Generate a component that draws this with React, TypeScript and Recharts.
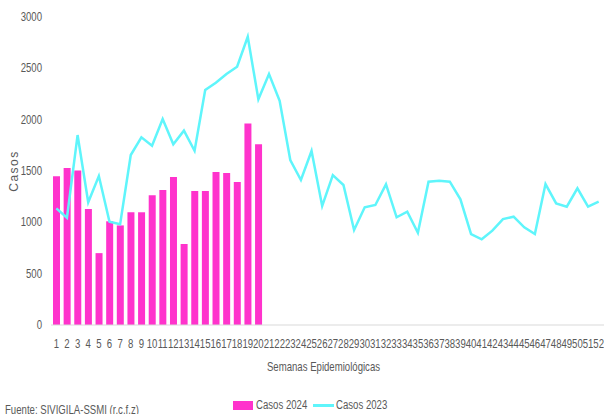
import React from "react";
import {
  ComposedChart,
  Bar,
  Line,
  XAxis,
  YAxis,
} from "recharts";

// semanas epidemiológicas 1..52
const semanas: string[] = [
  "1", "2", "3", "4", "5", "6", "7", "8", "9", "10",
  "11", "12", "13", "14", "15", "16", "17", "18", "19", "20",
  "21", "22", "23", "24", "25", "26", "27", "28", "29", "30",
  "31", "32", "33", "34", "35", "36", "37", "38", "39", "40",
  "41", "42", "43", "44", "45", "46", "47", "48", "49", "50",
  "51", "52",
];

// casos 2024 (solo hasta la semana 20)
const casos2024: number[] = [
  1450, 1530, 1505, 1130, 700, 1010, 970, 1098, 1098, 1263,
  1315, 1441, 789, 1305, 1305, 1490, 1480, 1393, 1962, 1760,
];

const casos2023: number[] = [
  1136, 1045, 1850, 1195, 1451, 1006, 981, 1656, 1828, 1747,
  2006, 1760, 1893, 1697, 2289, 2360, 2445, 2516, 2808, 2198,
  2445, 2184, 1607, 1412, 1695, 1159, 1460, 1364, 925, 1146,
  1169, 1370, 1049, 1104, 899, 1396, 1406, 1396, 1224, 886,
  835, 919, 1032, 1055, 951, 886, 1373, 1185, 1152, 1331,
  1152, 1201,
];

const yTicks = [0, 500, 1000, 1500, 2000, 2500, 3000];

const data = semanas.map((s, i) => ({
  semana: s,
  c2024: i < casos2024.length ? casos2024[i] : null,
  c2023: casos2023[i],
}));

const FONT = '"Liberation Sans", Arial, sans-serif';
const TEXT = "#595959";
const PINK = "#ff33cc";
const CYAN = "#5ff5fb";
const SQUEEZE = 0.8; // imita una fuente estrecha tipo Calibri

// texto comprimido horizontalmente
function NarrowText({ x, y, children, anchor = "middle", size = 12, spacing = 0 }: any) {
  return (
    <g transform={`translate(${x},${y}) scale(${SQUEEZE},1)`}>
      <text x={0} y={0} textAnchor={anchor} fill={TEXT} fontSize={size} fontFamily={FONT} letterSpacing={spacing}>
        {children}
      </text>
    </g>
  );
}

const XTick = ({ x, y, payload }: any) => (
  <NarrowText x={x} y={y + 15}>{payload.value}</NarrowText>
);

const YTick = ({ x, y, payload }: any) => (
  <NarrowText x={x - 1} y={y + 4} anchor="end">{payload.value}</NarrowText>
);

export default function App() {
  return (
    <div style={{ position: "absolute", left: 0, top: 0, width: 604, height: 414, fontFamily: FONT, background: "#fff", overflow: "hidden" }}>
      <ComposedChart
        width={604}
        height={414}
        data={data}
        margin={{ top: 17, right: 0, left: 0, bottom: 39 }}
        barCategoryGap="34%"
      >
        <YAxis
          domain={[0, 3000]}
          ticks={yTicks}
          width={51}
          axisLine={false}
          tickLine={false}
          tick={<YTick />}
          label={({ viewBox }: any) => {
            const cy = viewBox.y + viewBox.height / 2;
            return (
              <text
                x={14}
                y={cy}
                transform={`rotate(-90, 14, ${cy})`}
                textAnchor="middle"
                dominantBaseline="central"
                fill={TEXT}
                fontSize={12}
                fontFamily={FONT}
                letterSpacing={1.5}
              >
                Casos
              </text>
            );
          }}
        />
        <XAxis
          dataKey="semana"
          interval={0}
          height={50}
          tickLine={false}
          axisLine={{ stroke: "#d9d9d9" }}
          tick={<XTick />}
          label={({ viewBox }: any) => (
            <NarrowText x={viewBox.x + viewBox.width / 2 - 4} y={371}>
              Semanas Epidemiológicas
            </NarrowText>
          )}
        />
        <Bar dataKey="c2024" name="Casos 2024" fill={PINK} barSize={7} isAnimationActive={false} />
        <Line
          dataKey="c2023"
          name="Casos 2023"
          type="linear"
          stroke={CYAN}
          strokeWidth={2.5}
          dot={false}
          isAnimationActive={false}
        />
      </ComposedChart>

      {/* leyenda */}
      <div style={{ position: "absolute", left: 233, top: 398, display: "flex", alignItems: "center", fontSize: 12, color: TEXT }}>
        <span style={{ display: "inline-block", width: 20, height: 9, background: PINK, marginRight: 3 }} />
        <span style={{ display: "inline-block", width: 48, transform: `scaleX(${SQUEEZE})`, transformOrigin: "left", whiteSpace: "nowrap" }}>Casos 2024</span>
        <span style={{ display: "inline-block", width: 21, height: 3, background: CYAN, marginLeft: 9, marginRight: 2 }} />
        <span style={{ display: "inline-block", width: 48, transform: `scaleX(${SQUEEZE})`, transformOrigin: "left", whiteSpace: "nowrap" }}>Casos 2023</span>
      </div>

      <div style={{ position: "absolute", left: 5, top: 403, fontSize: 12, color: TEXT, whiteSpace: "nowrap", transform: `scaleX(${SQUEEZE})`, transformOrigin: "left" }}>
        Fuente: SIVIGILA-SSMI  (r.c.f.z)
      </div>
    </div>
  );
}
